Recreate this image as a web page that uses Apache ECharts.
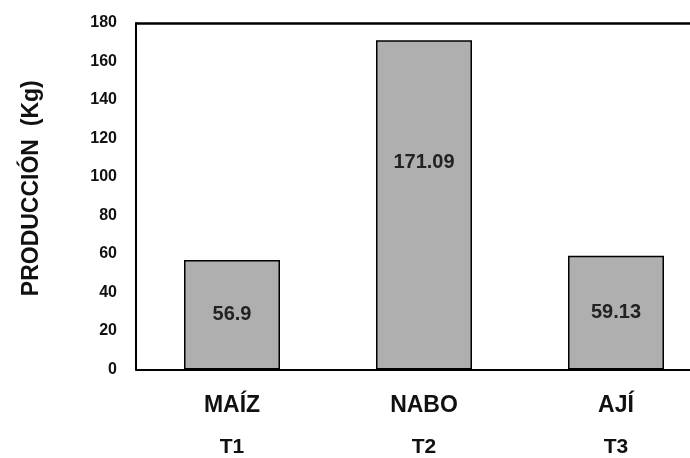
<!DOCTYPE html>
<html>
<head>
<meta charset="utf-8">
<script src="https://cdn.jsdelivr.net/npm/echarts@6/dist/echarts.min.js"></script>
<style>
  html, body { margin: 0; padding: 0; background: #fff; overflow: hidden; }
  #chart { width: 712px; height: 458px; }
</style>
</head>
<body>
<div id="chart"></div>
<script>
// Crop names, treatment codes and harvest weight (kg)
const crops = ['MAÍZ', 'NABO', 'AJÍ'];
const treatments = ['T1', 'T2', 'T3'];
const production = [56.9, 171.09, 59.13];
const yTicks = [0, 20, 40, 60, 80, 100, 120, 140, 160, 180];

const chart = echarts.init(document.getElementById('chart'));

// The tallest bar carries its label in the upper part of the bar
const bars = production.map((v, i) => ({
  value: v,
  label: i === 1 ? { offset: [0, -42] } : {}
}));

const boldSans = 'Liberation Sans, Arial, sans-serif';

chart.setOption({
  animation: false,
  grid: { left: 136, top: 23, right: 0, bottom: 82, containLabel: false },
  xAxis: {
    type: 'category',
    data: crops,
    axisLine: { lineStyle: { color: '#000', width: 2 } },
    axisTick: { show: false },
    axisLabel: {
      margin: 16,
      interval: 0,
      formatter: (v, i) => '{c|' + v + '}\n{t|' + treatments[i] + '}',
      rich: {
        c: { fontFamily: boldSans, fontWeight: 'bold', fontSize: 23, color: '#111', height: 40 },
        t: { fontFamily: boldSans, fontWeight: 'bold', fontSize: 21, color: '#111', height: 44 }
      }
    }
  },
  yAxis: {
    type: 'value',
    min: yTicks[0],
    max: yTicks[yTicks.length - 1],
    interval: 20,
    name: 'PRODUCCIÓN  (Kg)',
    nameLocation: 'middle',
    nameGap: 93,
    nameRotate: 90,
    nameTextStyle: { fontFamily: boldSans, fontWeight: 'bold', fontSize: 23, color: '#111', padding: [0, 0, 0, 16] },
    axisLine: { show: true, lineStyle: { color: '#000', width: 2 } },
    axisTick: { show: false },
    splitLine: { show: false },
    axisLabel: { margin: 19, fontFamily: boldSans, fontWeight: 'bold', fontSize: 16, color: '#111' }
  },
  series: [{
    type: 'bar',
    data: bars,
    barWidth: '50%',
    itemStyle: { color: '#afafaf', borderColor: '#000', borderWidth: 1.5 },
    label: {
      show: true,
      position: 'inside',
      fontFamily: boldSans,
      fontWeight: 'bold',
      fontSize: 20,
      color: '#222'
    },
    markLine: {
      silent: true,
      symbol: 'none',
      label: { show: false },
      lineStyle: { color: '#000', width: 2.5, type: 'solid' },
      data: [{ yAxis: yTicks[yTicks.length - 1] }]
    }
  }]
});
</script>
</body>
</html>
